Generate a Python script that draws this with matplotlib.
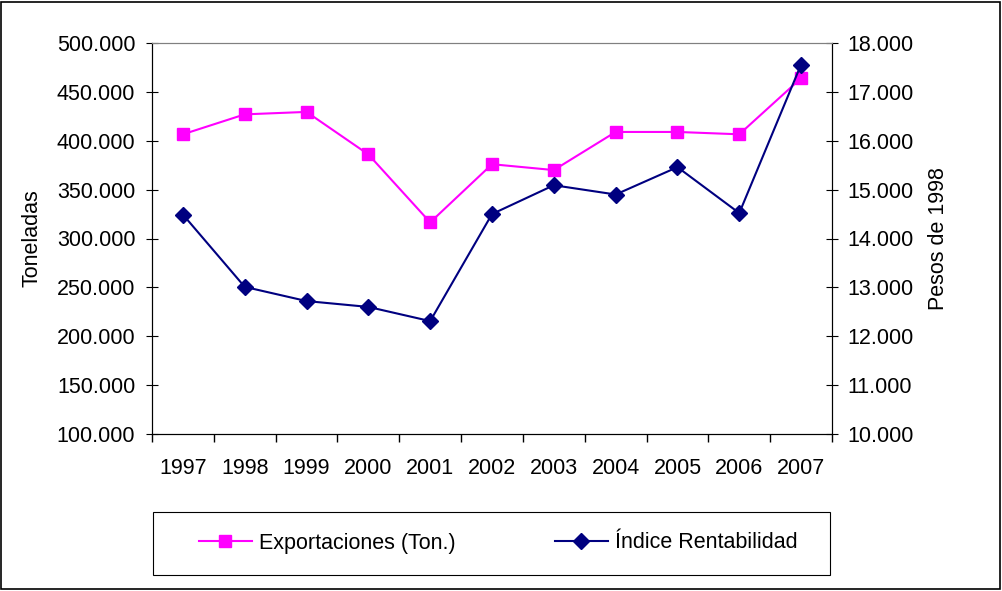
import matplotlib.pyplot as plt
import numpy as np
from matplotlib.ticker import FuncFormatter, FixedLocator

plt.rcParams['font.family'] = ['Liberation Sans', 'DejaVu Sans']
FS = 15.5

years = ['1997', '1998', '1999', '2000', '2001', '2002', '2003', '2004', '2005', '2006', '2007']
exportaciones = [406600, 427000, 429500, 386000, 316500, 376000, 370000, 409000, 409000, 406600, 464000]
indice = [14490, 13010, 12720, 12600, 12310, 14500, 15090, 14900, 15460, 14520, 17560]

def miles(v, pos):
    return '{:,.0f}'.format(v).replace(',', '.')

fig = plt.figure(figsize=(10.03, 5.91), dpi=100)
ax = fig.add_axes([152/1003, 1 - 434/591, 680/1003, 391/591])
ax2 = ax.twinx()

x = np.arange(len(years))
l1, = ax.plot(x, exportaciones, color='#ff00ff', marker='s', markersize=8.5, lw=1.5,
              label='Exportaciones (Ton.)')
l2, = ax2.plot(x, indice, color='#000080', marker='D', markersize=8, lw=1.5,
               label='Índice Rentabilidad')

ax.set_xlim(-0.5, len(years) - 0.5)
ax.set_ylim(100000, 500000)
ax.set_yticks(np.arange(100000, 500001, 50000))
ax.yaxis.set_major_formatter(FuncFormatter(miles))
ax2.set_ylim(10000, 18000)
ax2.set_yticks(np.arange(10000, 18001, 1000))
ax2.yaxis.set_major_formatter(FuncFormatter(miles))

ax.set_xticks(x)
ax.set_xticklabels(years)
ax.xaxis.set_minor_locator(FixedLocator(np.arange(-0.5, len(years), 1)))
ax.tick_params(axis='x', which='major', length=0, labelsize=FS, pad=17)
ax.tick_params(axis='x', which='minor', length=6, direction='out', width=1)
ax.tick_params(axis='y', direction='inout', length=8, labelsize=FS, pad=8)
ax2.tick_params(axis='y', direction='inout', length=8, labelsize=FS, pad=7)

ax.set_ylabel('Toneladas', fontsize=FS, labelpad=10)
ax2.set_ylabel('Pesos de 1998', fontsize=FS, labelpad=10)

for a in (ax, ax2):
    a.spines['top'].set_color('#808080')
    a.spines['left'].set_color('black')
    a.spines['right'].set_color('black')
    a.spines['bottom'].set_color('black')

fig.legend(handles=[l1, l2], loc='center', bbox_to_anchor=(498/1003, 1 - 543/591),
           ncol=2, fontsize=FS, frameon=False, columnspacing=4.6, handlelength=2.5,
           handletextpad=0.3, bbox_transform=fig.transFigure)

box = plt.Rectangle((153/1003, 1 - 575/591), 677/1003, 63/591, transform=fig.transFigure,
                    fill=False, edgecolor='black', lw=0.8)
fig.patches.append(box)

border = plt.Rectangle((0.001, 0.004), 0.996, 0.993, transform=fig.transFigure,
                       fill=False, edgecolor='black', lw=1.2)
fig.patches.append(border)

fig.savefig('out.png', dpi=100)
